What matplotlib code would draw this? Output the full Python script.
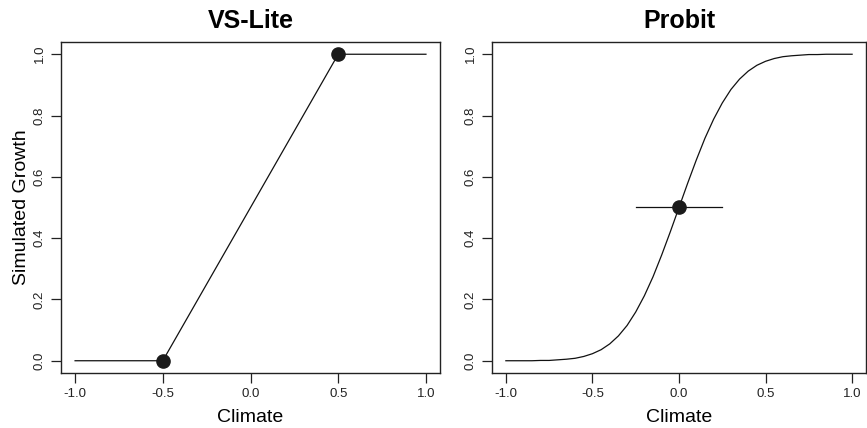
import numpy as np
import matplotlib
matplotlib.use('Agg')
import matplotlib.pyplot as plt

plt.rcParams['font.family'] = ['Liberation Sans', 'DejaVu Sans']

# VS-Lite: piecewise linear response
vs_x = [-1.0, -0.5, 0.5, 1.0]
vs_y = [0.0, 0.0, 1.0, 1.0]
vs_pts_x = [-0.5, 0.5]
vs_pts_y = [0.0, 1.0]

# Probit: smooth S curve
pr_x = [-1.0, -0.95, -0.9, -0.85, -0.8, -0.75, -0.7, -0.65, -0.6, -0.55, -0.5,
        -0.45, -0.4, -0.35, -0.3, -0.25, -0.2, -0.15, -0.1, -0.05, 0.0,
        0.05, 0.1, 0.15, 0.2, 0.25, 0.3, 0.35, 0.4, 0.45, 0.5,
        0.55, 0.6, 0.65, 0.7, 0.75, 0.8, 0.85, 0.9, 0.95, 1.0]
pr_y = [0.000, 0.000, 0.000, 0.000, 0.001, 0.001, 0.003, 0.005, 0.008, 0.014, 0.023,
        0.036, 0.055, 0.081, 0.115, 0.159, 0.212, 0.274, 0.345, 0.421, 0.500,
        0.579, 0.655, 0.726, 0.788, 0.841, 0.885, 0.919, 0.945, 0.964, 0.977,
        0.986, 0.992, 0.995, 0.997, 0.999, 0.999, 1.000, 1.000, 1.000, 1.000]
pr_bar_x = [-0.25, 0.25]
pr_bar_y = [0.5, 0.5]
pr_pt = (0.0, 0.5)

xticks = [-1.0, -0.5, 0.0, 0.5, 1.0]
yticks = [0.0, 0.2, 0.4, 0.6, 0.8, 1.0]

fig = plt.figure(figsize=(8.67, 4.28), dpi=100)
ax1 = fig.add_axes([0.0704, 0.1285, 0.4371, 0.7734])
ax2 = fig.add_axes([0.5675, 0.1285, 0.4313, 0.7734])


def style(ax, title):
    ax.set_xlim(-1.08, 1.08)
    ax.set_ylim(-0.04, 1.04)
    ax.set_xticks(xticks)
    ax.set_xticklabels(['%.1f' % v for v in xticks])
    ax.set_yticks(yticks)
    ax.set_yticklabels(['%.1f' % v for v in yticks], rotation=90, va='center')
    ax.tick_params(direction='out', length=7, width=0.9, labelsize=9.5,
                   colors='#222222', pad=4)
    for s in ax.spines.values():
        s.set_linewidth(1.0)
        s.set_color('#222222')
    ax.set_title(title, fontsize=18, fontweight='bold', pad=10)
    ax.set_xlabel('Climate', fontsize=14, labelpad=6)


ax1.plot(vs_x, vs_y, color='#111111', lw=0.9)
ax1.plot(vs_pts_x, vs_pts_y, 'o', color='#1a1a1a', ms=9.5)
style(ax1, 'VS-Lite')
ax1.set_ylabel('Simulated Growth', fontsize=14, labelpad=3)

ax2.plot(pr_x, pr_y, color='#111111', lw=0.9)
ax2.plot(pr_bar_x, pr_bar_y, color='#111111', lw=0.9)
ax2.plot([pr_pt[0]], [pr_pt[1]], 'o', color='#1a1a1a', ms=9.5)
style(ax2, 'Probit')

fig.savefig('out.png', dpi=100)
